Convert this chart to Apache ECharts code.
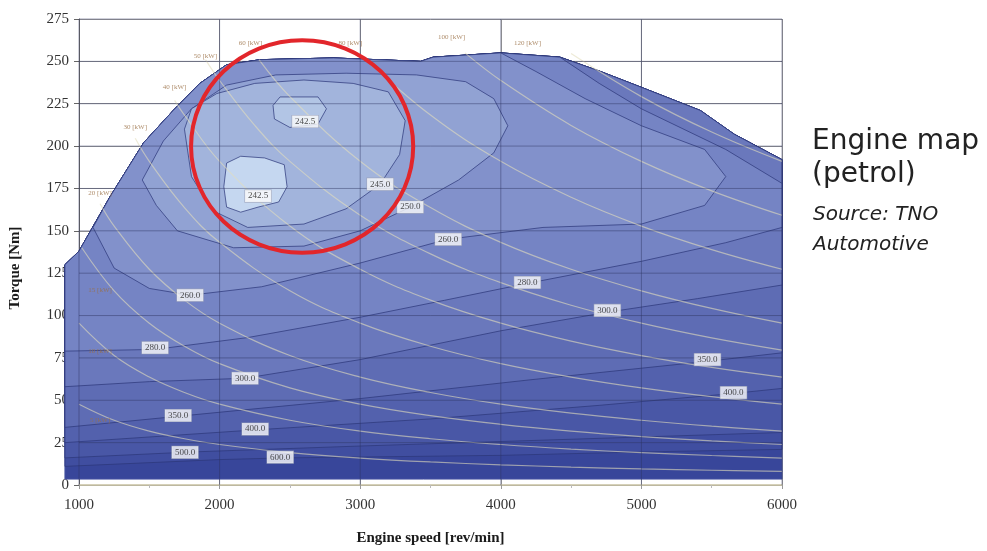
<!DOCTYPE html>
<html><head><meta charset="utf-8">
<script src="https://cdn.jsdelivr.net/npm/echarts@6/dist/echarts.min.js"></script>
<style>html,body{margin:0;padding:0;background:#fff}#c{width:987px;height:551px}</style>
</head><body><div id="c"></div>
<script>
// ---- axes ----
const xTicks = [1000, 2000, 3000, 4000, 5000, 6000];
const yTicks = [0, 25, 50, 75, 100, 125, 150, 175, 200, 225, 250, 275];

// ---- full-load (max torque) curve [rpm, Nm] ----
const maxTorque = [[900,130],[1000,138],[1220,170],[1460,202],[1670,221],[1860,237],[2050,248],[2290,251],[2810,252],[3430,250],[3520,252.5],[4000,255],[4420,252.5],[4710,244],[4990,235],[5420,221],[5660,207],[6000,192]];
const mapBottom = [[900,3.5],[6000,3.5]];

// ---- BSFC contour lines [rpm, Nm] (g/kWh) ----
const c600 = [[900,11],[2000,15],[2450,16],[3000,16.5],[4000,17.5],[5000,19.5],[6000,21]];
const c500 = [[900,16],[1800,19.5],[3000,23],[4500,27],[6000,31]];
const c400 = [[900,25],[2250,32.5],[3500,39],[4700,47],[5650,54],[6000,57]];
const c350 = [[900,34],[1700,40.5],[3000,51],[4200,62],[5470,73],[6000,78]];
const c300 = [[900,58],[1500,61],[2180,63],[3000,74],[4000,91],[4760,102],[5400,110],[6000,118]];
const c280 = [[900,79],[1540,80],[2200,87],[3000,99],[3600,109],[4190,119],[5000,132],[5600,143],[6000,152],[6000,178],[5600,198],[5000,222],[4700,237],[4420,252.5]];
const c260 = [[1100,152],[1250,128],[1500,116],[1790,112],[2300,117],[3000,131],[3620,145],[4300,152],[5000,154],[5450,165],[5600,182],[5450,198],[5000,212],[4600,228],[4250,244],[4000,255]];
const c250 = [[1450,180],[1550,165],[1700,150],[2100,140],[2600,141],[3000,150],[3356,164],[3700,180],[3950,196],[4050,212],[3950,228],[3750,238],[3400,242],[2900,243],[2400,242],[2050,236],[1800,222],[1600,203]];
const c245 = [[1750,210],[1800,182],[1950,162],[2200,152],[2600,154],[2900,163],[3142,177.5],[3280,195],[3320,215],[3200,232],[2950,237],[2600,239],[2250,237],[1980,231],[1800,222]];
const c2425a = [[2030,176],[2050,190],[2150,194],[2320,193],[2460,189],[2480,176],[2420,167],[2274,164],[2150,161],[2050,164]];
const c2425b = [[2380,224],[2430,229],[2700,229],[2760,222],[2700,213],[2500,211],[2390,216]];

// ---- contour labels [rpm, Nm, text] ----
const contourLabels = [[2609,214.5,'242.5'],[2274,170.5,'242.5'],[3142,177.5,'245.0'],[3356,164,'250.0'],[3626,145,'260.0'],[4189,119.5,'280.0'],[4758,103,'300.0'],[5470,74,'350.0'],[5655,54.5,'400.0'],[1790,112,'260.0'],[1541,81,'280.0'],[2181,63,'300.0'],[1705,41,'350.0'],[2253,33,'400.0'],[1754,19.3,'500.0'],[2431,16.4,'600.0']];

// ---- constant power lines [rpm, Nm] (kW) ----
const pw5 = [[1000,47.7],[1250,38.2],[1500,31.8],[1750,27.3],[2000,23.9],[2500,19.1],[3000,15.9],[3500,13.6],[4000,11.9],[4500,10.6],[5000,9.5],[5500,8.7],[6000,8.0]];
const pw10 = [[1000,95.5],[1250,76.4],[1500,63.7],[1750,54.6],[2000,47.7],[2500,38.2],[3000,31.8],[3500,27.3],[4000,23.9],[4500,21.2],[5000,19.1],[5500,17.4],[6000,15.9]];
const pw15 = [[1020,140],[1250,114.6],[1500,95.5],[1750,81.9],[2000,71.6],[2500,57.3],[3000,47.7],[3500,40.9],[4000,35.8],[4500,31.8],[5000,28.6],[5500,26.0],[6000,23.9]];
const pw20 = [[1150,166],[1250,152.8],[1500,127.3],[1750,109.1],[2000,95.5],[2500,76.4],[3000,63.7],[3500,54.6],[4000,47.7],[4500,42.4],[5000,38.2],[5500,34.7],[6000,31.8]];
const pw30 = [[1400,204.6],[1500,191],[1750,163.7],[2000,143.2],[2500,114.6],[3000,95.5],[3500,81.9],[4000,71.6],[4500,63.7],[5000,57.3],[5500,52.1],[6000,47.7]];
const pw40 = [[1680,227],[1750,218.3],[2000,191],[2500,152.8],[3000,127.3],[3500,109.1],[4000,95.5],[4500,84.9],[5000,76.4],[5500,69.4],[6000,63.7]];
const pw50 = [[1900,251],[2000,238.7],[2250,212.2],[2500,191],[3000,159.2],[3500,136.4],[4000,119.4],[4500,106.1],[5000,95.5],[5500,86.8],[6000,79.6]];
const pw60 = [[2280,251],[2500,229.2],[3000,191],[3500,163.7],[4000,143.2],[4500,127.3],[5000,114.6],[5500,104.2],[6000,95.5]];
const pw80 = [[3030,252],[3500,218.3],[4000,191],[4500,169.8],[5000,152.8],[5500,138.9],[6000,127.3]];
const pw100 = [[3745,255],[4000,238.7],[4500,212.2],[5000,191],[5500,173.6],[6000,159.2]];
const pw120 = [[4500,254.6],[5000,229.2],[5500,208.3],[6000,191]];
const powerLines = [pw5, pw10, pw15, pw20, pw30, pw40, pw50, pw60, pw80, pw100, pw120];

// ---- power line labels [rpm, Nm, text] ----
const powerLabels = [[1150,38,'5 [kW]'],[1150,79,'10 [kW]'],[1150,115,'15 [kW]'],[1150,172,'20 [kW]'],[1400,211,'30 [kW]'],[1680,235,'40 [kW]'],[1900,253,'50 [kW]'],[2220,261,'60 [kW]'],[2930,261,'80 [kW]'],[3650,264,'100 [kW]'],[4190,261,'120 [kW]']];

// ---- annotation circle (centre rpm, centre Nm, half-width rpm, half-height Nm) ----
const circleSpec = [2587, 199.8, 790, 62.7];

// ---- build band polygons (region below given BSFC) ----
function bandPolygon(line) {
  const a = line[0][0], b = line[line.length - 1][0];
  const lo = Math.min(a, b), hi = Math.max(a, b);
  let seg = maxTorque.filter(p => p[0] >= lo && p[0] <= hi);
  if (b > a) seg = seg.slice().reverse();
  return line.concat(seg);
}
const regions = [
  bandPolygon(mapBottom), bandPolygon(c600), bandPolygon(c500), bandPolygon(c400),
  bandPolygon(c350), bandPolygon(c300), bandPolygon(c280), bandPolygon(c260),
  c250, c245, c2425b, c2425a
];
const bandColors = ['#38469a','#404ea0','#4957a6','#5361ad','#5e6cb4','#6a78bc','#7584c4','#8291cb','#91a2d3','#a2b4dc','#b2c5e5','#c5d7f0'];

const chart = echarts.init(document.getElementById('c'), null, {renderer: 'canvas'});
const serif = '"Liberation Serif", "Times New Roman", serif';

const series = [];
series.push({
  type: 'custom', name: 'bsfc', coordinateSystem: 'cartesian2d', z: 2, clip: false,
  dimensions: ['x', 'y', 'i'], encode: {x: 0, y: 1},
  data: regions.map((r, i) => [3000, 100, i]),
  renderItem: function (params, api) {
    const idx = api.value(2);
    const pts = regions[idx].map(p => api.coord(p));
    return {type: 'polygon', shape: {points: pts},
      style: {fill: bandColors[idx], stroke: idx === 0 ? '#4552a0' : 'rgba(45,55,122,0.72)', lineWidth: 1}};
  }
});
powerLines.forEach((pl, i) => {
  series.push({type: 'line', data: pl, smooth: 0.4, symbol: 'none', z: 3, silent: true,
    lineStyle: {color: 'rgba(226,222,188,0.6)', width: 1.2}});
});
// grid lines over the map
series.push({
  type: 'custom', coordinateSystem: 'cartesian2d', z: 4, silent: true,
  data: xTicks.map(v => [v, 0]),
  renderItem: function (params, api) {
    const p0 = api.coord([api.value(0), 0]), p1 = api.coord([api.value(0), 275]);
    return {type: 'line', shape: {x1: p0[0], y1: p0[1], x2: p1[0], y2: p1[1]}, style: {stroke: 'rgba(45,50,95,0.45)', lineWidth: 1}};
  }
});
series.push({
  type: 'custom', coordinateSystem: 'cartesian2d', z: 4, silent: true,
  data: yTicks.slice(1).map(v => [1000, v]),
  renderItem: function (params, api) {
    const p0 = api.coord([1000, api.value(1)]), p1 = api.coord([6000, api.value(1)]);
    return {type: 'line', shape: {x1: p0[0], y1: p0[1], x2: p1[0], y2: p1[1]}, style: {stroke: 'rgba(45,50,95,0.45)', lineWidth: 1}};
  }
});
series.push({
  type: 'scatter', z: 6, silent: true, symbolSize: 1, itemStyle: {color: 'rgba(0,0,0,0)'},
  data: contourLabels.map(l => ({value: [l[0], l[1]], label: {formatter: l[2]}})),
  label: {show: true, position: 'inside', fontFamily: serif, fontSize: 9, color: '#222',
    backgroundColor: '#fbfbfb', borderColor: '#9aa0b8', borderWidth: 0.6, padding: [2, 3, 1, 3]}
});
series.push({
  type: 'scatter', z: 6, silent: true, symbolSize: 1, itemStyle: {color: 'rgba(0,0,0,0)'},
  data: powerLabels.map(l => ({value: [l[0], l[1]], label: {formatter: l[2]}})),
  label: {show: true, position: 'inside', fontFamily: serif, fontSize: 7, color: '#9a6f45'}
});

chart.setOption({
  animation: false,
  backgroundColor: '#ffffff',
  grid: {left: 79, right: 205, top: 19, bottom: 63, containLabel: false},
  xAxis: {
    type: 'value', min: 1000, max: 6000, interval: 1000,
    name: 'Engine speed [rev/min]', nameLocation: 'middle', nameGap: 46,
    nameTextStyle: {fontFamily: serif, fontSize: 15, fontWeight: 'bold', color: '#1a1a1a'},
    axisLine: {show: true, lineStyle: {color: '#c9c2a2', width: 1.5}},
    axisTick: {show: true, length: 4, lineStyle: {color: '#999'}},
    minorTick: {show: true, splitNumber: 2, length: 3, lineStyle: {color: '#bbb'}},
    axisLabel: {fontFamily: serif, fontSize: 15, color: '#333', margin: 13, formatter: v => String(v)},
    splitLine: {show: true, lineStyle: {color: '#9a9a9a', width: 1}}
  },
  yAxis: {
    type: 'value', min: 0, max: 275, interval: 25,
    axisLine: {show: true, lineStyle: {color: '#666', width: 1}},
    axisTick: {show: true, length: 5, lineStyle: {color: '#666'}},
    axisLabel: {fontFamily: serif, fontSize: 15, color: '#333', margin: 10},
    splitLine: {show: true, lineStyle: {color: '#9a9a9a', width: 1}}
  },
  series: series
});

// annotation circle & side texts
const cen = chart.convertToPixel({gridIndex: 0}, [circleSpec[0], circleSpec[1]]);
const edge = chart.convertToPixel({gridIndex: 0}, [circleSpec[0] + circleSpec[2], circleSpec[1] + circleSpec[3]]);
chart.setOption({
  graphic: [
    {type: 'ellipse', z: 100, silent: true,
      shape: {cx: cen[0], cy: cen[1], rx: Math.abs(edge[0] - cen[0]), ry: Math.abs(cen[1] - edge[1])},
      style: {fill: 'none', stroke: '#e2262b', lineWidth: 4}},
    {type: 'text', x: 15, y: 268, rotation: Math.PI / 2, z: 100,
      style: {text: 'Torque [Nm]', align: 'center', verticalAlign: 'middle', font: 'bold 15px ' + serif, fill: '#1a1a1a'}},
    {type: 'text', x: 812, y: 128, z: 100,
      style: {text: 'Engine map', align: 'left', verticalAlign: 'alphabetic', font: '28px "DejaVu Sans", Verdana, sans-serif', fill: '#222'}},
    {type: 'text', x: 812, y: 161, z: 100,
      style: {text: '(petrol)', align: 'left', verticalAlign: 'alphabetic', font: '28px "DejaVu Sans", Verdana, sans-serif', fill: '#222'}},
    {type: 'text', x: 813, y: 205, z: 100,
      style: {text: 'Source: TNO', align: 'left', verticalAlign: 'alphabetic', font: 'italic 20px "DejaVu Sans", Verdana, sans-serif', fill: '#222'}},
    {type: 'text', x: 813, y: 235, z: 100,
      style: {text: 'Automotive', align: 'left', verticalAlign: 'alphabetic', font: 'italic 20px "DejaVu Sans", Verdana, sans-serif', fill: '#222'}}
  ]
});
</script></body></html>
